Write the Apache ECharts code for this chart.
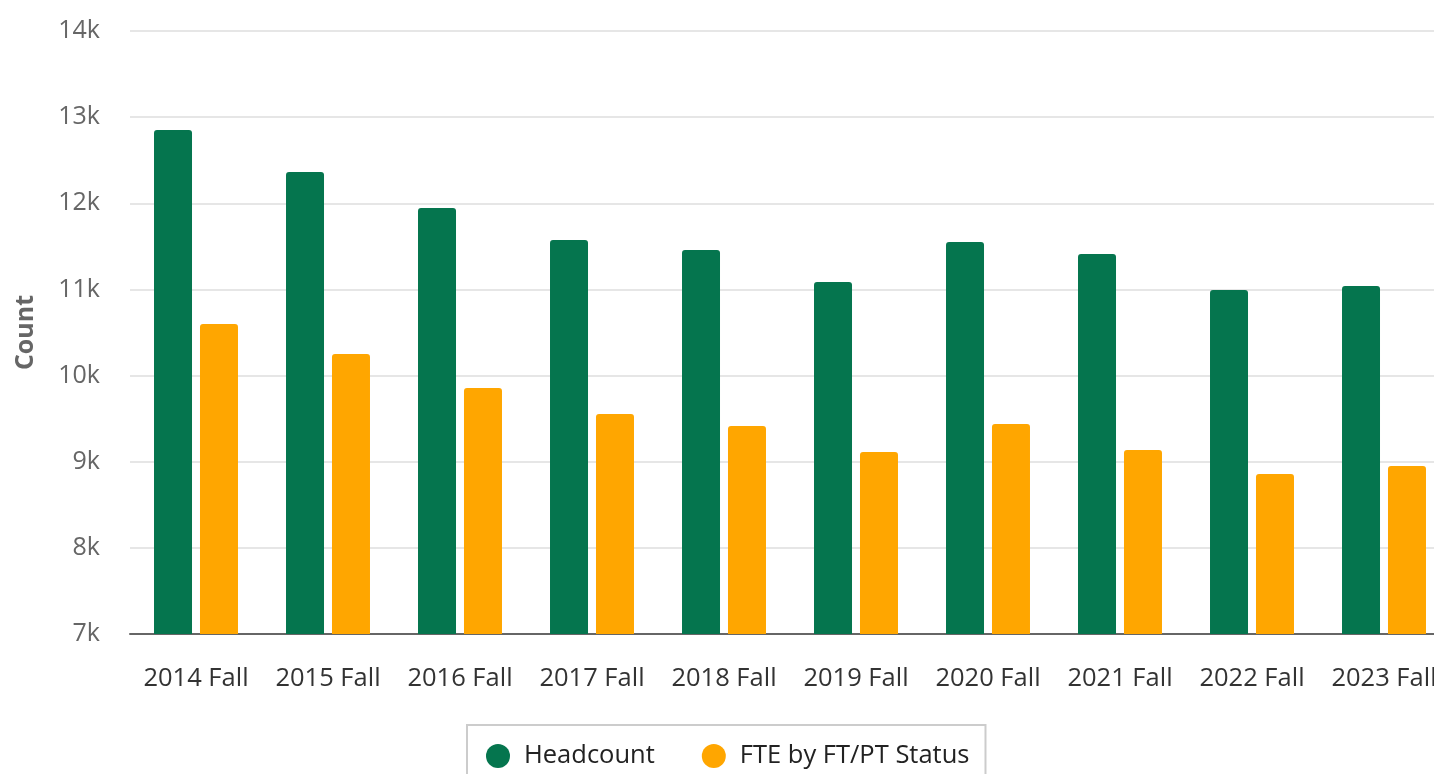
<!DOCTYPE html>
<html>
<head>
<meta charset="utf-8">
<script src="https://cdn.jsdelivr.net/npm/echarts@6/dist/echarts.min.js"></script>
<style>
html,body{margin:0;padding:0;overflow:hidden;background:#fff;}
#main{width:1450px;height:774px;}
</style>
</head>
<body>
<div id="main"></div>
<script>
const categories = ['2014 Fall','2015 Fall','2016 Fall','2017 Fall','2018 Fall','2019 Fall','2020 Fall','2021 Fall','2022 Fall','2023 Fall'];
const headcount = [12851, 12363, 11945, 11574, 11458, 11086, 11551, 11411, 10993, 11040];
const fte = [10599, 10250, 9856, 9554, 9415, 9113, 9438, 9136, 8857, 8950];
const seriesNames = ['Headcount', 'FTE by FT/PT Status'];

const chart = echarts.init(document.getElementById('main'), null, {renderer:'canvas'});
chart.setOption({
  animation: false,
  textStyle: {fontFamily: 'Open Sans'},
  color: ['#05754e', '#ffa600'],
  grid: {left: 130, right: 0, top: 31, bottom: 140},
  legend: {
    left: 467, top: 725,
    icon: 'circle',
    itemWidth: 24, itemHeight: 24,
    itemGap: 47,
    padding: [18, 16, 16, 19],
    borderColor: '#cccccc', borderWidth: 2,
    textStyle: {fontSize: 25.5, lineHeight: 24, color: '#222', fontFamily: 'Open Sans', padding: [0,0,0,9]},
    data: seriesNames
  },
  xAxis: {
    type: 'category',
    data: categories,
    axisTick: {show: false},
    axisLine: {lineStyle: {color: '#666', width: 2}},
    axisLabel: {fontSize: 25.5, color: '#333', margin: 32, interval: 0, hideOverlap: false}
  },
  yAxis: {
    type: 'value',
    min: 7000, max: 14000, interval: 1000,
    name: 'Count',
    nameLocation: 'middle',
    nameGap: 92,
    nameTextStyle: {fontSize: 25, fontWeight: 'bold', color: '#666'},
    axisLine: {show: false},
    axisTick: {show: false},
    splitLine: {lineStyle: {color: '#e6e6e6', width: 2}},
    axisLabel: {fontSize: 25, color: '#666', margin: 30, formatter: v => (v/1000) + 'k'}
  },
  series: [
    {name: seriesNames[0], type: 'bar', data: headcount, barWidth: 38, barGap: '21%', itemStyle: {borderRadius: [3,3,0,0]}},
    {name: seriesNames[1], type: 'bar', data: fte, barWidth: 38, barGap: '21%', itemStyle: {borderRadius: [3,3,0,0]}}
  ]
});
</script>
</body>
</html>
